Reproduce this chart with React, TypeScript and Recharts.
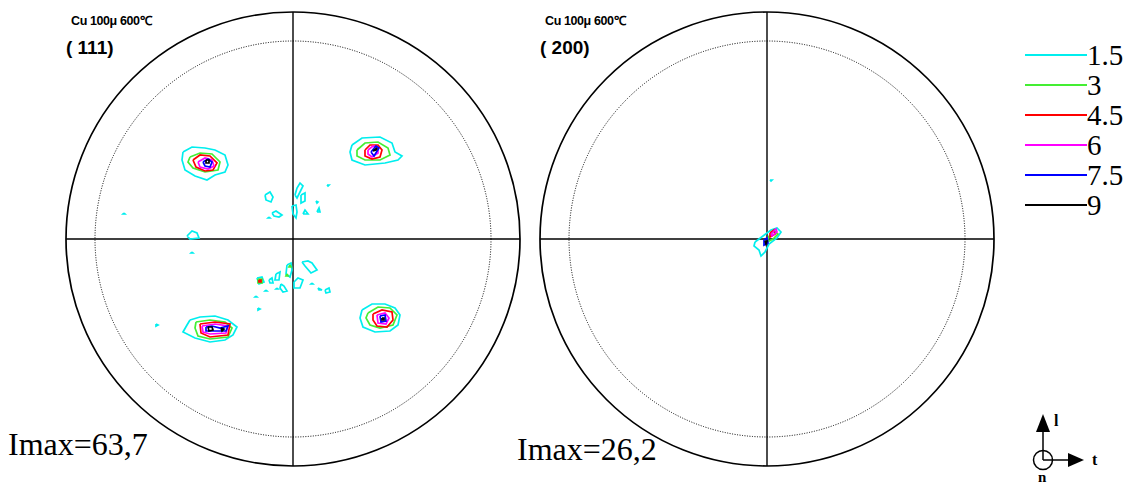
import React from "react";
import { ComposedChart, Line, XAxis, YAxis, ReferenceDot, ReferenceLine } from "recharts";

// contour levels (multiples of random) and their colours
const levels = [1.5, 3, 4.5, 6, 7.5, 9];
const levelColors = ["#00eeee", "#44ee33", "#ff0000", "#ff00ff", "#0000ff", "#000000"];

// projection radius in figure units
const R = 227;

type Contour = { lv: number; pts: number[][] };

// (111) pole figure - four main poles
const pole111A: Contour[] = [
  { lv: 1.5, pts: [[-110, 87], [-101, 92], [-88, 91], [-78, 89], [-68, 84], [-65, 74], [-68, 67], [-78, 64], [-86, 59], [-98, 63], [-108, 69], [-111, 79]] },
  { lv: 3, pts: [[-103, 82], [-93, 86], [-81, 85], [-73, 77], [-75, 69], [-88, 67], [-100, 71], [-105, 77]] },
  { lv: 4.5, pts: [[-100, 79], [-93, 84], [-83, 83], [-76, 76], [-80, 69], [-88, 68], [-97, 72]] },
  { lv: 6, pts: [[-95, 77], [-88, 81], [-81, 79], [-79, 73], [-85, 70], [-93, 72]] },
  { lv: 7.5, pts: [[-90, 77], [-85, 80], [-81, 77], [-83, 72], [-88, 73]] },
  { lv: 9, pts: [[-87, 79], [-84, 79], [-84, 76], [-87, 76]] },
];
const pole111B: Contour[] = [
  { lv: 1.5, pts: [[59, 94], [69, 101], [87, 102], [99, 96], [102, 87], [109, 83], [105, 79], [92, 76], [72, 74], [59, 79], [57, 87]] },
  { lv: 3, pts: [[64, 89], [72, 96], [85, 97], [95, 91], [97, 84], [87, 79], [72, 79], [64, 83]] },
  { lv: 4.5, pts: [[72, 89], [77, 94], [85, 94], [89, 89], [87, 82], [79, 80], [72, 83]] },
  { lv: 6, pts: [[75, 89], [80, 93], [85, 91], [85, 86], [79, 82], [75, 85]] },
  { lv: 7.5, pts: [[78, 87], [83, 93], [86, 91], [81, 83]] },
  { lv: 9, pts: [[80, 88], [84, 91], [83, 89]] },
];
const pole111C: Contour[] = [
  { lv: 1.5, pts: [[-103, -81], [-93, -78], [-78, -77], [-65, -81], [-56, -88], [-60, -96], [-68, -101], [-83, -103], [-98, -99], [-110, -93], [-106, -86]] },
  { lv: 3, pts: [[-97, -83], [-83, -81], [-68, -83], [-61, -89], [-65, -98], [-83, -100], [-95, -97], [-98, -89]] },
  { lv: 4.5, pts: [[-93, -85], [-78, -83], [-63, -85], [-65, -96], [-83, -98], [-92, -94]] },
  { lv: 6, pts: [[-91, -87], [-78, -85], [-65, -87], [-67, -94], [-83, -95], [-90, -93]] },
  { lv: 7.5, pts: [[-87, -88], [-81, -87], [-73, -89], [-65, -87], [-67, -92], [-81, -92], [-87, -92]] },
  { lv: 9, pts: [[-85, -88], [-81, -88], [-80, -91], [-84, -92]] },
  { lv: 9, pts: [[-72, -89], [-69, -90], [-71, -92]] },
];
const pole111D: Contour[] = [
  { lv: 1.5, pts: [[69, -71], [79, -65], [92, -65], [102, -69], [107, -76], [105, -86], [97, -92], [82, -93], [70, -88], [67, -79]] },
  { lv: 3, pts: [[75, -74], [85, -68], [97, -69], [104, -76], [100, -86], [87, -89], [77, -86], [73, -79]] },
  { lv: 4.5, pts: [[80, -75], [89, -71], [99, -73], [100, -81], [94, -88], [84, -87], [80, -81]] },
  { lv: 6, pts: [[84, -76], [92, -74], [96, -79], [93, -85], [85, -84]] },
  { lv: 7.5, pts: [[87, -77], [92, -76], [93, -82], [88, -83]] },
  { lv: 9, pts: [[89, -79], [91, -79], [91, -81], [89, -81]] },
];
// (111) weak spots near the centre
const spots111: Contour[] = [
  { lv: 1.5, pts: [[-28, 44], [-23, 47], [-20, 42], [-22, 37], [-27, 39]] },
  { lv: 1.5, pts: [[2, 44], [4, 51], [7, 56], [10, 53], [7, 47], [4, 41]] },
  { lv: 1.5, pts: [[8, 44], [12, 46], [12, 38], [8, 36]] },
  { lv: 1.5, pts: [[-21, 26], [-17, 28], [-11, 24], [-14, 22], [-19, 23]] },
  { lv: 1.5, pts: [[-1, 33], [3, 34], [4, 27], [3, 21], [0, 25]] },
  { lv: 1.5, pts: [[10, 25], [12, 29], [15, 25]] },
  { lv: 1.5, pts: [[23, 38], [25, 37], [24, 36]] },
  { lv: 1.5, pts: [[24, 27], [26, 31], [27, 27]] },
  { lv: 1.5, pts: [[34, 54], [36, 54], [35, 53]] },
  { lv: 1.5, pts: [[-24, 22], [-23, 21], [-25, 21]] },
  { lv: 1.5, pts: [[-106, 3], [-101, 8], [-96, 6], [-94, 1], [-103, 0]] },
  { lv: 1.5, pts: [[-101, -13], [-100, -14], [-102, -14]] },
  { lv: 1.5, pts: [[-169, 26], [-168, 25], [-170, 25]] },
  { lv: 1.5, pts: [[-6, -26], [-2, -24], [-1, -31], [-3, -38], [-7, -35]] },
  { lv: 3, pts: [[-3, -26], [-2, -28], [-4, -28]] },
  { lv: 3, pts: [[-6, -35], [-5, -37], [-7, -37]] },
  { lv: 1.5, pts: [[9, -23], [15, -22], [19, -24], [24, -31], [18, -34], [12, -27]] },
  { lv: 1.5, pts: [[-36, -39], [-31, -38], [-29, -43], [-34, -45]] },
  { lv: 3, pts: [[-35, -40], [-31, -40], [-31, -44], [-35, -44]] },
  { lv: 4.5, pts: [[-34, -41], [-32, -41], [-32, -43], [-34, -43]] },
  { lv: 1.5, pts: [[-17, -35], [-13, -33], [-14, -41], [-18, -41]] },
  { lv: 1.5, pts: [[-24, -41], [-21, -39], [-20, -44], [-23, -44]] },
  { lv: 1.5, pts: [[-12, -45], [-9, -47], [-6, -52], [-10, -53], [-13, -49]] },
  { lv: 1.5, pts: [[1, -43], [5, -39], [10, -41], [7, -49], [1, -49]] },
  { lv: 1.5, pts: [[19, -44], [20, -45], [18, -45]] },
  { lv: 1.5, pts: [[25, -49], [29, -51], [26, -51]] },
  { lv: 1.5, pts: [[32, -51], [36, -49], [37, -53], [33, -54]] },
  { lv: 1.5, pts: [[-27, -51], [-26, -52], [-28, -52]] },
  { lv: 1.5, pts: [[-37, -57], [-36, -58], [-38, -58]] },
  { lv: 1.5, pts: [[-16, -49], [-15, -50], [-17, -50]] },
  { lv: 1.5, pts: [[-137, -85], [-135, -86], [-137, -87]] },
  { lv: 1.5, pts: [[-35, -69], [-33, -70], [-35, -71]] },
];

// (200) pole figure - single central pole
const pole200: Contour[] = [
  { lv: 1.5, pts: [[3, 59], [5, 59], [4, 58]] },
  { lv: 1.5, pts: [[-12, -3], [-4, 3], [4, 9], [10, 11], [14, 7], [10, 1], [2, -5], [-2, -13], [-6, -17], [-8, -11], [-13, -7]] },
  { lv: 3, pts: [[2, 3], [7, 8], [11, 5], [6, 0], [0, -3]] },
  { lv: 4.5, pts: [[3, 6], [7, 9], [8, 5], [3, 2]] },
  { lv: 6, pts: [[4, 5], [9, 10], [10, 7], [5, 3]] },
  { lv: 7.5, pts: [[-3, -1], [0, 1], [1, -4], [-3, -6]] },
  { lv: 9, pts: [[-2, -2], [0, -2], [-1, -5]] },
];

const figure111 = [...spots111, ...pole111A, ...pole111B, ...pole111C, ...pole111D];
const figure200 = pole200;

const colorOf = (lv: number) => levelColors[levels.indexOf(lv)];

function PoleFigure({ contours, left, title, plane, imax, imaxLeft, imaxTop }: any) {
  const sorted = [...contours].sort((a: Contour, b: Contour) => a.lv - b.lv);
  return (
    <>
      <div style={{ position: "absolute", left, top: 9 }}>
        <ComposedChart width={460} height={460} margin={{ top: 3, right: 3, bottom: 3, left: 3 }}>
          <XAxis type="number" dataKey="x" domain={[-R, R]} hide allowDataOverflow />
          <YAxis type="number" domain={[-R, R]} hide allowDataOverflow />
          <ReferenceDot x={0} y={0} r={R} fill="none" stroke="#000" strokeWidth={1.7} />
          <ReferenceDot x={0} y={0} r={198} fill="none" stroke="#000" strokeWidth={1} strokeDasharray="1 1.5" />
          <ReferenceLine y={0} stroke="#000" strokeWidth={1.4} />
          <ReferenceLine x={0} stroke="#000" strokeWidth={1.4} />
          {sorted.map((c: Contour, i: number) => (
            <Line
              key={i}
              data={[...c.pts, c.pts[0]].map(([x, y]) => ({ x, y }))}
              dataKey="y"
              type="linear"
              stroke={colorOf(c.lv)}
              strokeWidth={1.7}
              dot={false}
              activeDot={false}
              isAnimationActive={false}
            />
          ))}
        </ComposedChart>
      </div>
      <div style={{ position: "absolute", left: left + 8, top: 12, font: "bold 12.5px 'Liberation Sans', Arial", letterSpacing: -0.4 }}>
        {title}
      </div>
      <div style={{ position: "absolute", left: left + 3, top: 37, font: "bold 19px 'Liberation Sans', Arial" }}>{plane}</div>
      <div style={{ position: "absolute", left: imaxLeft, top: imaxTop, font: "32px 'Liberation Serif', 'Times New Roman'" }}>{imax}</div>
    </>
  );
}

function LegendBox() {
  return (
    <svg width={110} height={200} style={{ position: "absolute", left: 1020, top: 35 }}>
      {levels.map((lv, i) => (
        <g key={lv}>
          <line x1={5} x2={67} y1={20 + i * 30} y2={20 + i * 30} stroke={levelColors[i]} strokeWidth={2} />
          <text x={67} y={30 + i * 30} fontFamily="'Liberation Serif', 'Times New Roman'" fontSize={29}>
            {lv}
          </text>
        </g>
      ))}
    </svg>
  );
}

function AxesIcon() {
  return (
    <svg width={100} height={80} style={{ position: "absolute", left: 1020, top: 404 }}>
      <circle cx={23} cy={56} r={9.5} fill="none" stroke="#000" strokeWidth={1.5} />
      <line x1={23} y1={56} x2={23} y2={26} stroke="#000" strokeWidth={1.5} />
      <polygon points="16,28 30,28 23,10" fill="#000" />
      <line x1={23} y1={56} x2={50} y2={56} stroke="#000" strokeWidth={1.5} />
      <polygon points="48,49 48,63 64,56" fill="#000" />
      <text x={34} y={22} fontFamily="'Liberation Serif'" fontWeight="bold" fontSize={16}>l</text>
      <text x={72} y={61} fontFamily="'Liberation Serif'" fontWeight="bold" fontSize={16}>t</text>
      <text x={18} y={78} fontFamily="'Liberation Serif'" fontWeight="bold" fontSize={15}>n</text>
    </svg>
  );
}

export default function App() {
  return (
    <div style={{ position: "absolute", left: 0, top: 0, width: 1129, height: 484, background: "#fff", overflow: "hidden" }}>
      <PoleFigure contours={figure111} left={63} title="Cu 100μ 600℃" plane="( 111)" imax="Imax=63,7" imaxLeft={8} imaxTop={426} />
      <PoleFigure contours={figure200} left={537} title="Cu 100μ 600℃" plane="( 200)" imax="Imax=26,2" imaxLeft={517} imaxTop={431} />
      <LegendBox />
      <AxesIcon />
    </div>
  );
}
